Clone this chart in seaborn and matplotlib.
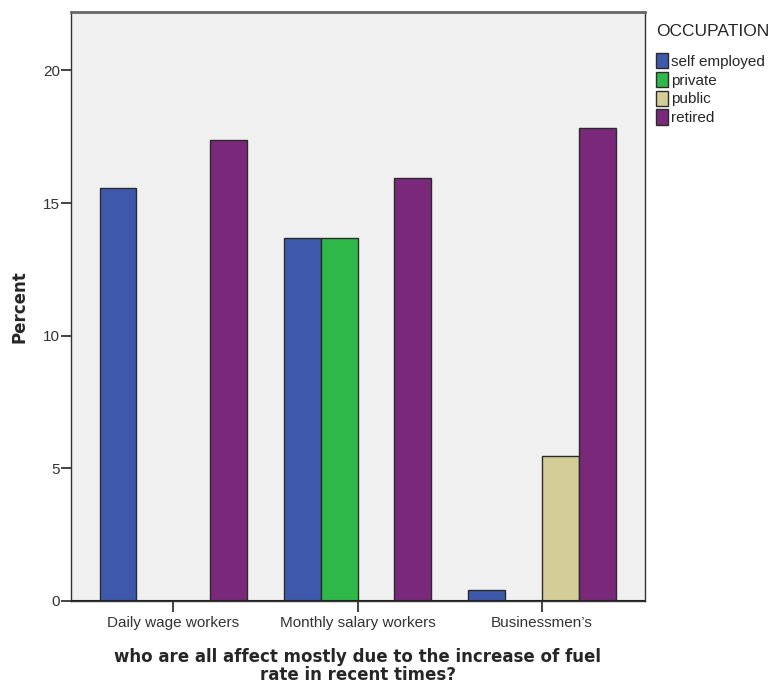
import pandas as pd
import numpy as np
import matplotlib
matplotlib.use("Agg")
import matplotlib.pyplot as plt
import seaborn as sns

# values (percent)
groups = ["Daily wage workers", "Monthly salary workers", "Businessmen\u2019s"]
occupations = ["self employed", "private", "public", "retired"]
self_employed = [15.55, 13.7, 0.42]
private = [0.0, 13.7, 0.0]
public = [0.0, 0.0, 5.47]
retired = [17.36, 15.96, 17.81]
colors = ["#3E58AC", "#2EB848", "#D3CE97", "#7A287A"]

rows = []
for occ, vals in zip(occupations, [self_employed, private, public, retired]):
    for g, v in zip(groups, vals):
        rows.append({"group": g, "OCCUPATION": occ, "Percent": v})
df = pd.DataFrame(rows)

sns.set_style("white")
plt.rcParams['font.family'] = ['Liberation Sans', 'DejaVu Sans']

fig = plt.figure(figsize=(7.71, 6.84), dpi=100)
ax = fig.add_axes([71/771, 83/684, (645-71)/771, (601-12)/684])

sns.barplot(data=df, x="group", y="Percent", hue="OCCUPATION",
            order=groups, hue_order=occupations, palette=colors, saturation=1,
            width=0.8, edgecolor="#2b2b2b", linewidth=1.0, ax=ax, legend=True)

ax.set_facecolor("#F0F0F0")
ax.set_xlim(-0.555, 2.56)
ax.set_ylim(0, 22.2)
ax.set_yticks([0, 5, 10, 15, 20])
for s in ax.spines.values():
    s.set_color("#333333")
    s.set_linewidth(1.0)
ax.spines['top'].set_color("#666666")
ax.spines['top'].set_linewidth(2)

ax.tick_params(axis='both', direction='out', width=1.2, color="#222222",
               labelsize=11, labelcolor="#333333", bottom=True, left=True)
ax.tick_params(axis='x', length=8, pad=3)
ax.tick_params(axis='y', length=7, pad=1)
ax.axhline(0, color="#222222", lw=1.5, zorder=5)

ax.set_ylabel("Percent", fontsize=12, fontweight='bold', family='DejaVu Sans', labelpad=10)
ax.set_xlabel("who are all affect mostly due to the increase of fuel\nrate in recent times?",
              fontsize=12, fontweight='bold', family='DejaVu Sans', labelpad=12.5,
              linespacing=1.02)

handles, labels = ax.get_legend_handles_labels()
ax.get_legend().remove()
leg = fig.legend(handles, labels, title="OCCUPATION", loc="upper left",
                 bbox_to_anchor=(650/771, 1 - 18/684), frameon=False,
                 fontsize=11, title_fontsize=12.5, handlelength=0.75, handleheight=1.15,
                 handletextpad=0.25, labelspacing=0.2, borderaxespad=0)
leg._legend_box.align = "left"
leg._legend_box.sep = 10

fig.savefig("out.png", dpi=100)
